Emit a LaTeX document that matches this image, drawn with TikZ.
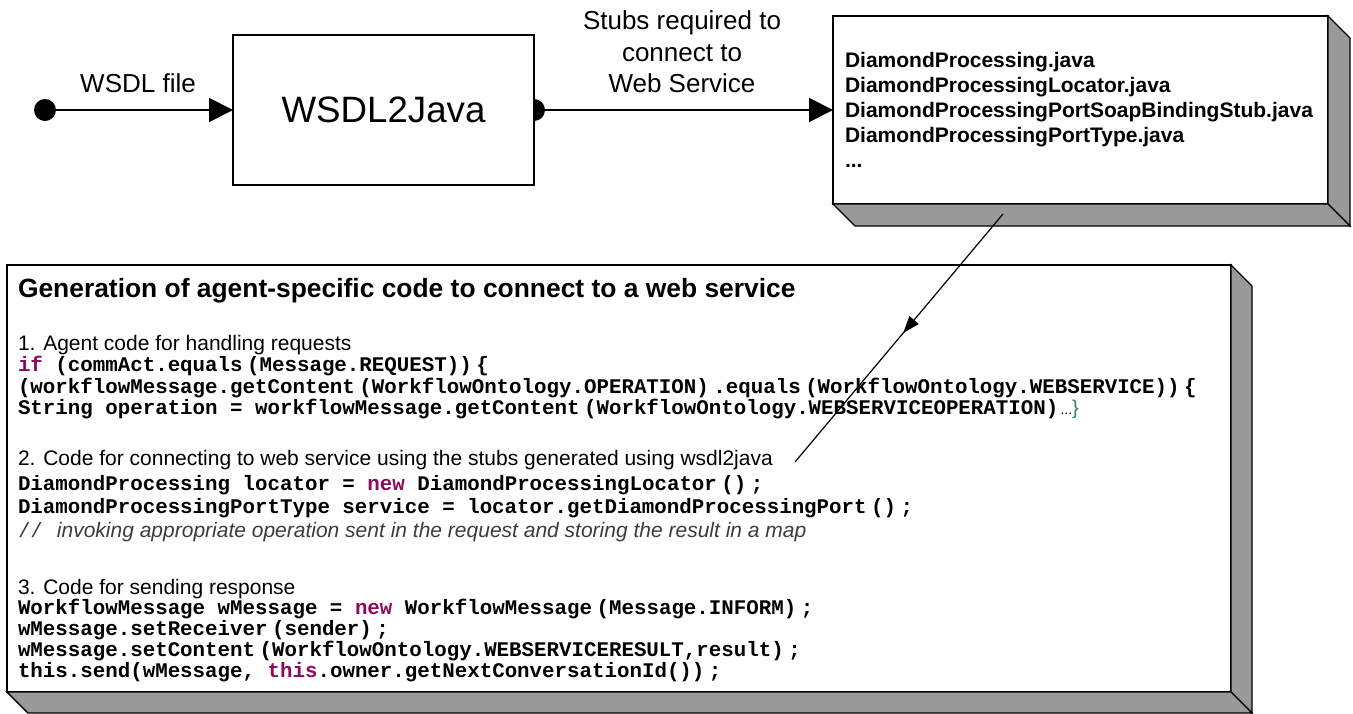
\documentclass[tikz,border=0pt]{standalone}
\usepackage{fontspec}
\setmainfont{Liberation Sans}
\newfontfamily\codefont{Liberation Mono}
\usetikzlibrary{arrows.meta,decorations.markings}
\definecolor{kw}{RGB}{140,10,95}
\definecolor{face}{RGB}{153,153,153}
\definecolor{brc}{RGB}{40,130,110}
\definecolor{cmt}{RGB}{60,60,60}
\newcommand\cgap{\hspace{4.5pt}}
\begin{document}
\begin{tikzpicture}[x=1pt,y=-1pt,
  frontbox/.style={draw=black, line width=1.8pt, fill=white, inner sep=0pt, outer sep=0pt},
  sideface/.style={draw=black, line width=1.4pt, fill=face, line join=miter},
  flow/.style={line width=2pt, -{Triangle[length=24pt,width=24pt]}},
  txt/.style={anchor=base west, inner sep=0pt, outer sep=0pt, text=black},
  lbl/.style={anchor=base, inner sep=0pt, text=black, font=\fontsize{26}{30}\selectfont},
  codeline/.style={txt, font=\codefont\bfseries\fontsize{20.8}{22}\selectfont},
  sansline/.style={txt, font=\fontsize{21}{25}\selectfont},
  headline/.style={txt, font=\bfseries\fontsize{26.4}{30}\selectfont},
  fileline/.style={txt, font=\bfseries\fontsize{21}{25}\selectfont}]
\useasboundingbox (0,0) rectangle (1353,713);

% ---- big box ----
\node[frontbox, minimum width=1224pt, minimum height=427pt, anchor=north west] (gen) at (7,265) {};
\draw[sideface] (gen.north east) -- ++(21,21) -- ([shift={(21,21)}]gen.south east) -- (gen.south east) -- cycle;
\draw[sideface] (gen.south west) -- ++(21,21) -- ([shift={(21,21)}]gen.south east) -- (gen.south east) -- cycle;

% ---- stubs box ----
\node[frontbox, minimum width=495pt, minimum height=188pt, anchor=north west] (stubs) at (833,16) {};
\draw[sideface] (stubs.north east) -- ++(22,22) -- ([shift={(22,22)}]stubs.south east) -- (stubs.south east) -- cycle;
\draw[sideface] (stubs.south west) -- ++(22,22) -- ([shift={(22,22)}]stubs.south east) -- (stubs.south east) -- cycle;

\node[fileline] (f1) at (845,67) {DiamondProcessing.java};
\node[fileline] (f2) at (845,92) {DiamondProcessingLocator.java};
\node[fileline] (f3) at (845,117) {DiamondProcessingPortSoapBindingStub.java};
\node[fileline] (f4) at (845,142) {DiamondProcessingPortType.java};
\node[fileline] (f5) at (845,167) {...};

% ---- WSDL2Java ----
\node[frontbox, minimum width=301pt, minimum height=150pt, anchor=north west,
      font=\fontsize{36.7}{40}\selectfont] (w2j) at (233,35) {WSDL2Java};
\node[circle, fill=black, minimum size=22pt, inner sep=0pt] (src) at (45,110) {};
\begin{scope}
  \clip (w2j.north east) rectangle ++(30,150);
  \fill[black] (w2j.east) circle[radius=11pt];
\end{scope}

\draw[flow] (src) -- (w2j);
\draw[flow] (w2j) -- (stubs);

\node[lbl] (lw) at (138,92) {WSDL file};
\node[lbl] (ls1) at (682,29) {Stubs required to};
\node[lbl] (ls2) at (682,61) {connect to};
\node[lbl] (ls3) at (682,92) {Web Service};

% ---- code text ----
\node[headline] (title) at (18,297) {Generation of agent-specific code to connect to a web service};
\node[sansline] (s1) at (18,350) {1. Agent code for handling requests};
\node[codeline] (c1) at (18,371) {\textcolor{kw}{if} (commAct.equals\cgap(Message.REQUEST))\cgap\{};
\node[codeline] (c2) at (18,393) {(workflowMessage.getContent\cgap(WorkflowOntology.OPERATION)\cgap.equals\cgap(WorkflowOntology.WEBSERVICE))\cgap\{};
\node[codeline] (c3) at (18,414) {String operation = workflowMessage.getContent\cgap(WorkflowOntology.WEBSERVICEOPERATION){\rmfamily\mdseries\fontsize{14}{14}\selectfont\hspace{2pt}...\textcolor{brc}{\fontsize{20}{20}\selectfont\}}}};
\node[sansline] (s2) at (18,465) {2. Code for connecting to web service using the stubs generated using wsdl2java};
\node[codeline] (c4) at (18,490) {DiamondProcessing locator = \textcolor{kw}{new} DiamondProcessingLocator\cgap()\cgap;};
\node[codeline] (c5) at (18,513) {DiamondProcessingPortType service = locator.getDiamondProcessingPort\cgap()\cgap;};
\node[sansline, text=cmt] (cm) at (18,537) {{\codefont\mdseries\fontsize{20.8}{22}\selectfont//}\hspace{14pt}\itshape invoking appropriate operation sent in the request and storing the result in a map};
\node[sansline] (s3) at (18,594) {3. Code for sending response};
\node[codeline] (c6) at (18,614) {WorkflowMessage wMessage = \textcolor{kw}{new} WorkflowMessage\cgap(Message.INFORM)\cgap;};
\node[codeline] (c7) at (18,635) {wMessage.setReceiver\cgap(sender)\cgap;};
\node[codeline] (c8) at (18,656) {wMessage.setContent\cgap(WorkflowOntology.WEBSERVICERESULT,result)\cgap;};
\node[codeline] (c9) at (18,677) {this.send(wMessage, \textcolor{kw}{this}.owner.getNextConversationId())\cgap;};

% ---- diagonal connector ----
\coordinate (dstart) at (1003,214);
\coordinate (dend) at (795,462);
\draw[line width=1.2pt, decoration={markings, mark=at position 0.48 with {\arrow{Triangle[length=17pt,width=12pt]}}}, postaction={decorate}] (dstart) -- (dend);
\end{tikzpicture}
\end{document}
